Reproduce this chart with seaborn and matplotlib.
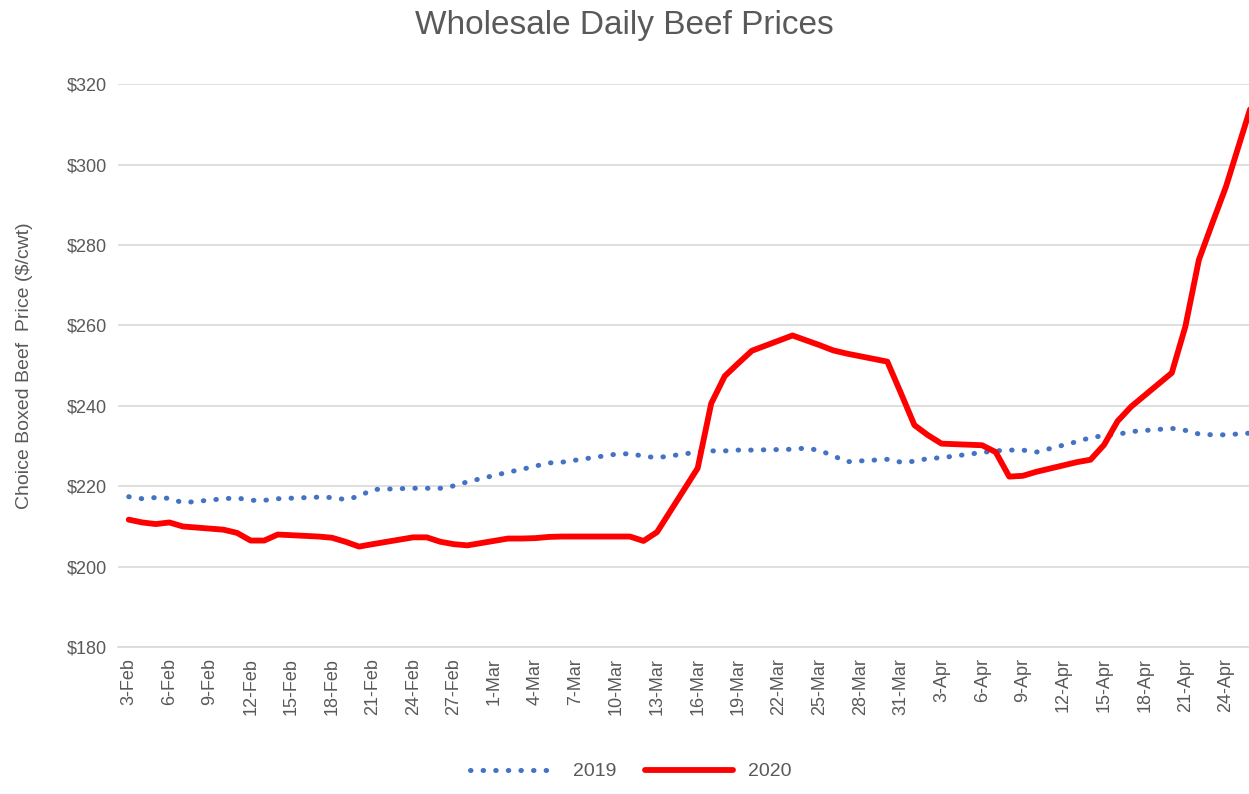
import matplotlib
matplotlib.use("Agg")
import matplotlib.pyplot as plt
import matplotlib.dates as mdates
import seaborn as sns
import pandas as pd

# trading days shown on the chart (2019 values aligned to 2020 dates)
dates = pd.bdate_range("2020-02-03", "2020-04-27")

price_2019 = [217.4, 216.9, 217.2, 217.0, 215.9, 216.9, 217.1, 216.5, 216.5, 216.9,
              217.3, 217.2, 216.7, 217.5, 219.2, 219.5, 219.5, 219.5, 220.1, 221.1,
              223.5, 224.2, 225.0, 225.8, 226.0, 227.5, 228.0, 228.1, 227.5, 227.1,
              228.5, 228.8, 228.8, 229.0, 229.0, 229.2, 229.5, 228.9, 227.6, 226.1,
              226.7, 226.0,
              226.2, 226.9, 227.1, 228.4, 228.8, 229.0, 229.0, 228.5, 231.1, 232.1,
              232.6, 232.9, 233.6, 234.4, 233.9, 233.0, 232.8, 232.8, 233.5]

price_2020 = [211.7, 211.0, 210.6, 211.0, 210.0, 209.2, 208.4, 206.5, 206.5, 208.0,
              207.5, 207.2, 206.2, 205.0, 205.6, 207.3, 207.3, 206.2, 205.6, 205.3,
              207.0, 207.0, 207.1, 207.4, 207.5, 207.5, 207.5, 207.5, 206.4, 208.6,
              224.5, 240.6, 247.4, 250.6, 253.7, 257.5, 256.3, 255.1, 253.8, 253.0,
              251.0, 243.2,
              235.2, 232.7, 230.6, 230.2, 228.5, 222.4, 222.6, 223.6, 226.0, 226.6,
              230.3, 236.2, 239.8, 248.2, 259.7, 276.3, 285.5, 294.5, 327.0]

tick_dates = pd.date_range("2020-02-03", "2020-04-24", freq="3D")

df = pd.DataFrame({"date": dates, "2019": price_2019, "2020": price_2020})

sns.set_theme(style="white")
plt.rcParams["font.family"] = ["Liberation Sans Narrow", "Liberation Sans", "DejaVu Sans"]
grey = "#595959"

fig = plt.figure(figsize=(12.49, 7.94), dpi=100)
ax = fig.add_axes([0.0945, 0.185, 0.9055, 0.709])

sns.lineplot(data=df, x="date", y="2019", ax=ax, color="#4472C4", linewidth=3.6,
             linestyle=(0, (0.1, 2.42)), dash_capstyle="round", label="2019")
sns.lineplot(data=df, x="date", y="2020", ax=ax, color="#FF0000", linewidth=4.2,
             solid_capstyle="round", label="2020")

ax.set_ylim(180, 320)
ax.set_yticks(range(180, 321, 20))
ax.yaxis.set_major_formatter(plt.FuncFormatter(lambda v, p: f"${v:.0f}"))
ax.set_xlim(pd.Timestamp("2020-02-03") - pd.Timedelta(days=0.79),
            pd.Timestamp("2020-02-03") + pd.Timedelta(days=82.7))
ax.set_xticks(tick_dates)
ax.xaxis.set_major_formatter(mdates.DateFormatter("%-d-%b"))
plt.setp(ax.get_xticklabels(), rotation=90)

ax.grid(axis="y", color="#D9D9D9", linewidth=1.2)
ax.set_axisbelow(True)
for s in ["top", "right", "left"]:
    ax.spines[s].set_visible(False)
ax.spines["bottom"].set_color("#D9D9D9")
ax.spines["bottom"].set_linewidth(1.2)
ax.tick_params(axis="both", colors=grey, labelsize=13, length=0, pad=8)

ax.set_xlabel("")
ax.set_ylabel("Choice Boxed Beef  Price ($/cwt)", fontsize=14, color=grey, labelpad=24)
fig.suptitle("Wholesale Daily Beef Prices", fontsize=24, color=grey, y=0.988)

ax.get_legend().remove()
handles, labels = ax.get_legend_handles_labels()
fig.legend(handles, labels, loc="lower center", ncol=2, frameon=False, fontsize=14,
           bbox_to_anchor=(0.505, -0.005), handlelength=4.5, columnspacing=1.5,
           labelcolor=grey)

fig.savefig("out.png", dpi=100)
